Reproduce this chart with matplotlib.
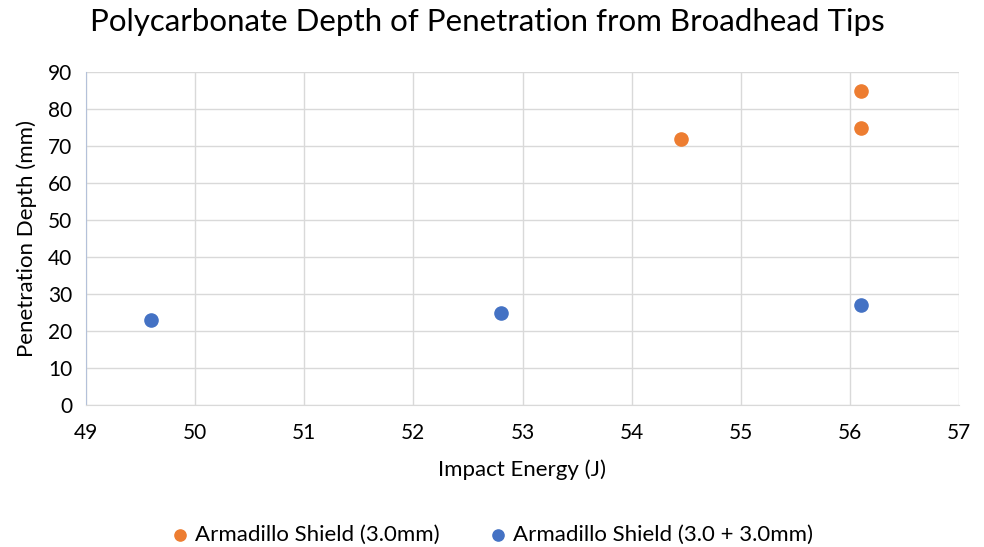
import matplotlib.pyplot as plt

plt.rcParams['font.family'] = ['Lato', 'DejaVu Sans']

# data
shield_single_x = [54.45, 56.1, 56.1]
shield_single_y = [72, 85, 75]
shield_double_x = [49.6, 52.8, 56.1]
shield_double_y = [23, 25, 27]

fig = plt.figure(figsize=(9.84, 5.47), dpi=100)
ax = fig.add_axes([86 / 984, 1 - 405 / 547, (959 - 86) / 984, (405 - 72) / 547])

ax.scatter(shield_single_x, shield_single_y, s=90, color='#ED7D31', zorder=3,
           label='Armadillo Shield (3.0mm)')
ax.scatter(shield_double_x, shield_double_y, s=90, color='#4472C4', zorder=3,
           label='Armadillo Shield (3.0 + 3.0mm)')

ax.set_xlim(49, 57)
ax.set_ylim(0, 90)
ax.set_xticks(range(49, 58))
ax.set_yticks(range(0, 91, 10))
ax.grid(True, color='#d9d9d9', linewidth=1)
ax.set_axisbelow(True)
for side in ['top', 'right']:
    ax.spines[side].set_visible(False)
ax.spines['left'].set_color('#b4c1d9')
ax.spines['bottom'].set_color('#d9d9d9')
ax.tick_params(length=0, labelsize=15, colors='#000000')
ax.tick_params(axis='x', pad=13)
ax.tick_params(axis='y', pad=10)

ax.set_xlabel('Impact Energy (J)', fontsize=16, labelpad=12)
ax.set_ylabel('Penetration Depth (mm)', fontsize=16, labelpad=8)
fig.text(0.495, 0.96, 'Polycarbonate Depth of Penetration from Broadhead Tips',
         ha='center', va='center', fontsize=22.5)

fig.legend(loc='center', bbox_to_anchor=(0.5, 0.022), ncol=2, frameon=False,
           fontsize=16, handlelength=0.8, handletextpad=0.3, columnspacing=2.2,
           markerscale=0.85)

fig.savefig('out.png', dpi=100)
